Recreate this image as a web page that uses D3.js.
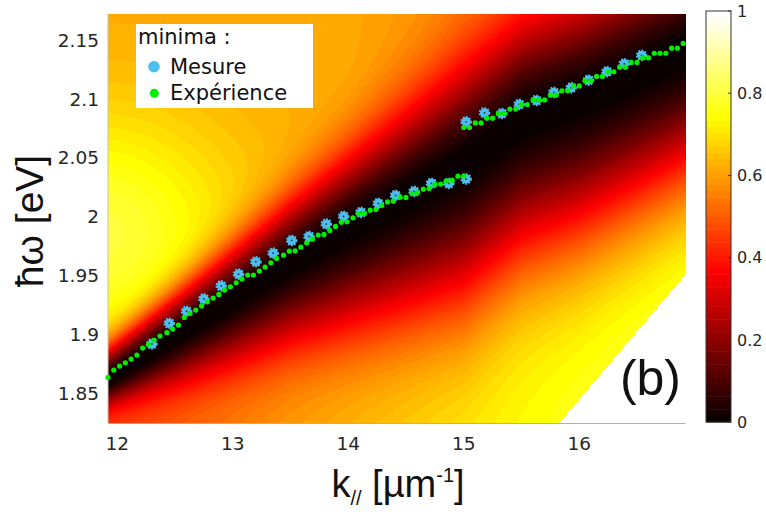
<!DOCTYPE html>
<html><head><meta charset="utf-8">
<script src="https://cdn.jsdelivr.net/npm/d3@7"></script>
<style>body{margin:0;background:#fff;} svg{display:block;}</style>
</head><body>
<svg id="chart" width="766" height="516"></svg>
<script>
// ---------- data ----------
const xTicks = [12, 13, 14, 15, 16];
const yTicks = [1.85, 1.9, 1.95, 2, 2.05, 2.1, 2.15];
const cbTicks = [0, 0.2, 0.4, 0.6, 0.8, 1];

// "Expérience" minima (green dots)
const expK = [11.92, 11.97, 12.02, 12.07, 12.12, 12.17, 12.22, 12.27, 12.32, 12.37,
  12.43, 12.48, 12.53, 12.58, 12.63, 12.68, 12.73, 12.78, 12.83, 12.88,
  12.93, 12.98, 13.03, 13.08, 13.13, 13.18, 13.23, 13.28, 13.33, 13.38,
  13.44, 13.49, 13.54, 13.59, 13.64, 13.69, 13.74, 13.79, 13.84, 13.89,
  13.94, 13.99, 14.04, 14.09, 14.14, 14.19, 14.24, 14.29, 14.34, 14.39,
  14.45, 14.50, 14.55, 14.60, 14.65, 14.70, 14.75, 14.80, 14.85, 14.90,
  14.95, 15.00,
  15.00, 15.05, 15.10, 15.15, 15.20, 15.25, 15.30, 15.35, 15.40, 15.45,
  15.50, 15.55, 15.60, 15.65, 15.70, 15.75, 15.80, 15.85, 15.90, 15.95,
  16.00, 16.05, 16.10, 16.15, 16.20, 16.25, 16.30, 16.35, 16.40, 16.45,
  16.50, 16.55, 16.60, 16.65, 16.70, 16.75, 16.80, 16.85, 16.90];
const expE = [1.8637, 1.8699, 1.8733, 1.8761, 1.8793, 1.8826, 1.8886, 1.8917, 1.8954, 1.8988,
  1.9016, 1.9047, 1.9081, 1.9146, 1.9180, 1.9208, 1.9242, 1.9278, 1.9310, 1.9341,
  1.9378, 1.9406, 1.9440, 1.9471, 1.9505, 1.9505, 1.9539, 1.9573, 1.9609, 1.9646,
  1.9674, 1.9708, 1.9711, 1.9742, 1.9779, 1.9810, 1.9844, 1.9850, 1.9884, 1.9918,
  1.9954, 1.9957, 1.9991, 2.0025, 2.0028, 2.0056, 2.0062, 2.0096, 2.0126, 2.0132,
  2.0166, 2.0164, 2.0198, 2.0203, 2.0234, 2.0240, 2.0274, 2.0277, 2.0305, 2.0310,
  2.0344, 2.0347,
  2.0757, 2.0757, 2.0796, 2.0796, 2.0836, 2.0836, 2.0876, 2.0876, 2.0913, 2.0913,
  2.0952, 2.0952, 2.0991, 2.0991, 2.0991, 2.1031, 2.1031, 2.1068, 2.1068, 2.1110,
  2.1110, 2.1153, 2.1153, 2.1190, 2.1190, 2.1229, 2.1229, 2.1269, 2.1269, 2.1309,
  2.1309, 2.1348, 2.1348, 2.1387, 2.1387, 2.1387, 2.1430, 2.1430, 2.1470];

// "Mesure" minima (blue markers)
const mesK = [12.30, 12.45, 12.60, 12.75, 12.90, 13.05, 13.20, 13.35, 13.51, 13.66,
  13.81, 13.96, 14.11, 14.26, 14.41, 14.57, 14.72, 14.87, 15.02,
  15.02, 15.18, 15.33, 15.48, 15.63, 15.78, 15.93, 16.08, 16.24, 16.39, 16.54];
const mesE = [1.8921, 1.9096, 1.9198, 1.9303, 1.9414, 1.9513, 1.9618, 1.9691, 1.9799, 1.9833,
  1.9938, 2.0003, 2.0037, 2.0113, 2.0181, 2.0215, 2.0283, 2.0283, 2.0320,
  2.0805, 2.0881, 2.0876, 2.0953, 2.0987, 2.1055, 2.1094, 2.1159, 2.1231, 2.1298, 2.1369];

// anchors of the reflectivity map (dark band centre, widths, levels)
const bandK = [11.9, 12.5, 13.0, 13.5, 14.0, 14.5, 15.0, 15.5, 16.0, 16.5, 17.0];
const bandE = [1.860, 1.898, 1.930, 1.962, 1.990, 2.017, 2.045, 2.082, 2.100, 2.122, 2.145];
const widthK = [11.9, 13.5, 15.0, 16.0, 17.0];
const widthAbove = [0.028, 0.052, 0.082, 0.08, 0.075];
const widthBelow = [0.02, 0.07, 0.12, 0.122, 0.115];
const levelBelow = [0.45, 0.6, 0.72, 0.77, 0.8];
const lightLineSlope = 0.1153;

// ---------- scales ----------
const svg = d3.select("#chart");
const x = d3.scaleLinear().domain([11.92, 16.92]).range([108, 685.5]);
const y = d3.scaleLinear().domain([1.825, 2.172]).range([423, 14]);
const band = d3.scaleLinear().domain(bandK).range(bandE).clamp(true);
const wA = d3.scaleLinear().domain(widthK).range(widthAbove).clamp(true);
const wB = d3.scaleLinear().domain(widthK).range(widthBelow).clamp(true);
const lB = d3.scaleLinear().domain(widthK).range(levelBelow).clamp(true);

function hotRGB(v) {
  const i = Math.max(0, Math.min(63, Math.floor(v * 64)));
  const c = t => Math.max(0, Math.min(1, t));
  return [c((i + 1) / 24) * 255, c((i + 1 - 24) / 24) * 255, c((i + 1 - 48) / 16) * 255];
}
function field(k, E) {
  const d = E - band(k);
  if (d >= 0) {
    const B = 0.615 - 0.13 * Math.max(0, Math.min(1, (k - 14) / 2.9))
      + 0.19 * Math.exp(-Math.pow((k - 11.8) / 1.25, 2) - Math.pow((E - 1.985) / 0.105, 2));
    return B * (1 - Math.exp(-Math.pow(d / wA(k), 2)));
  } else {
    return lB(k) * (1 - Math.exp(-Math.pow(d / wB(k), 2)));
  }
}

// ---------- heat map ----------
const x0 = x.range()[0], x1 = x.range()[1], yTop = y.range()[1], yBot = y.range()[0];
const W = Math.round(x1 - x0), H = Math.round(yBot - yTop);
const cv = document.createElement("canvas");
cv.width = W; cv.height = H;
const ctx = cv.getContext("2d");
const img = ctx.createImageData(W, H);
for (let py = 0; py < H; py++) {
  const E = y.invert(yTop + py + 0.5);
  for (let px = 0; px < W; px++) {
    const k = x.invert(x0 + px + 0.5);
    const o = (py * W + px) * 4;
    const lim = lightLineSlope * k;
    if (E < lim) { img.data[o + 3] = 0; continue; }
    const [r, g, b] = hotRGB(field(k, E));
    img.data[o] = r; img.data[o + 1] = g; img.data[o + 2] = b;
    img.data[o + 3] = 255;
  }
}
ctx.putImageData(img, 0, 0);
svg.append("image").attr("x", x0).attr("y", yTop).attr("width", W).attr("height", H)
  .attr("preserveAspectRatio", "none").attr("href", cv.toDataURL());

// axis lines
svg.append("line").attr("x1", x0).attr("x2", x0).attr("y1", yTop).attr("y2", yBot)
  .attr("stroke", "#c9c0b0").attr("stroke-width", 1);
svg.append("line").attr("x1", x0).attr("x2", x1).attr("y1", yBot + 0.5).attr("y2", yBot + 0.5)
  .attr("stroke", "#b0b0b0").attr("stroke-width", 1);

// tick labels
svg.append("g").selectAll("text").data(xTicks).join("text")
  .attr("x", d => x(d)).attr("y", 450).attr("text-anchor", "middle")
  .attr("font-family", "DejaVu Sans").attr("font-size", 18.5).attr("fill", "#262626")
  .text(d => d);
svg.append("g").selectAll("text").data(yTicks).join("text")
  .attr("x", 99).attr("y", d => y(d)).attr("dy", "0.36em").attr("text-anchor", "end")
  .attr("font-family", "DejaVu Sans").attr("font-size", 18.5).attr("fill", "#262626")
  .text(d => d);

// axis titles
svg.append("text").attr("transform", "translate(43,221) rotate(-90)")
  .attr("text-anchor", "middle").attr("font-family", "Liberation Sans").attr("font-size", 39)
  .attr("fill", "#111").text("ħω [eV]");
const xl = svg.append("text").attr("x", 398).attr("y", 497).attr("text-anchor", "middle")
  .attr("font-family", "Liberation Sans").attr("font-size", 38).attr("fill", "#111");
xl.append("tspan").text("k");
xl.append("tspan").attr("font-size", 20).attr("dy", 8).text("//");
xl.append("tspan").attr("dy", -8).text(" [µm");
xl.append("tspan").attr("font-size", 20).attr("dy", -15).text("-1");
xl.append("tspan").attr("dy", 15).text("]");

// markers
const mes = svg.append("g");
mes.selectAll("circle.rim").data(mesK).join("circle")
  .attr("cx", (d) => x(d)).attr("cy", (d, i) => y(mesE[i])).attr("r", 4.6)
  .attr("fill", "#4dbeee").attr("stroke", "#4dbeee").attr("stroke-width", 2.4)
  .attr("stroke-dasharray", "1.7,1.3");
mes.selectAll("circle.c").data(mesK).join("circle")
  .attr("cx", (d) => x(d)).attr("cy", (d, i) => y(mesE[i])).attr("r", 0.9).attr("fill", "#1a3550");
svg.append("g").selectAll("circle").data(expK).join("circle")
  .attr("cx", d => x(d)).attr("cy", (d, i) => y(expE[i])).attr("r", 2.6).attr("fill", "#00f000");

// legend
const lg = svg.append("g");
lg.append("rect").attr("x", 136).attr("y", 24).attr("width", 177).attr("height", 84).attr("fill", "#fff");
lg.append("text").attr("x", 138).attr("y", 44).attr("font-family", "DejaVu Sans").attr("font-size", 21)
  .attr("fill", "#111").text("minima :");
lg.append("circle").attr("cx", 154).attr("cy", 66.7).attr("r", 5.8).attr("fill", "#4dbeee");
lg.append("text").attr("x", 170).attr("y", 74).attr("font-family", "DejaVu Sans").attr("font-size", 21)
  .attr("fill", "#111").text("Mesure");
lg.append("circle").attr("cx", 154.3).attr("cy", 93.3).attr("r", 4.5).attr("fill", "#00f000");
lg.append("text").attr("x", 170).attr("y", 100).attr("font-family", "DejaVu Sans").attr("font-size", 21)
  .attr("fill", "#111").text("Expérience");

// panel tag
svg.append("text").attr("x", 681).attr("y", 395).attr("text-anchor", "end")
  .attr("font-family", "Liberation Sans").attr("font-size", 50).attr("fill", "#111").text("(b)");

// colour bar
const cb = d3.scaleLinear().domain([0, 1]).range([422, 11]);
const levels = d3.range(64);
const cbg = svg.append("g");
cbg.selectAll("rect").data(levels).join("rect")
  .attr("x", 706).attr("width", 25)
  .attr("y", d => cb((d + 1) / 64)).attr("height", d => cb(d / 64) - cb((d + 1) / 64) + 0.5)
  .attr("fill", d => { const c = hotRGB((d + 0.5) / 64); return `rgb(${c[0]},${c[1]},${c[2]})`; });
cbg.append("rect").attr("x", 706).attr("y", 11).attr("width", 25).attr("height", 411)
  .attr("fill", "none").attr("stroke", "#333").attr("stroke-width", 1);
cbg.selectAll("line").data(cbTicks).join("line")
  .attr("x1", 728).attr("x2", 731).attr("y1", d => cb(d)).attr("y2", d => cb(d))
  .attr("stroke", "#333");
cbg.selectAll("text").data(cbTicks).join("text")
  .attr("x", 737).attr("y", d => cb(d)).attr("dy", "0.36em")
  .attr("font-family", "DejaVu Sans").attr("font-size", 16).attr("fill", "#262626")
  .text(d => d);
</script>
</body></html>
